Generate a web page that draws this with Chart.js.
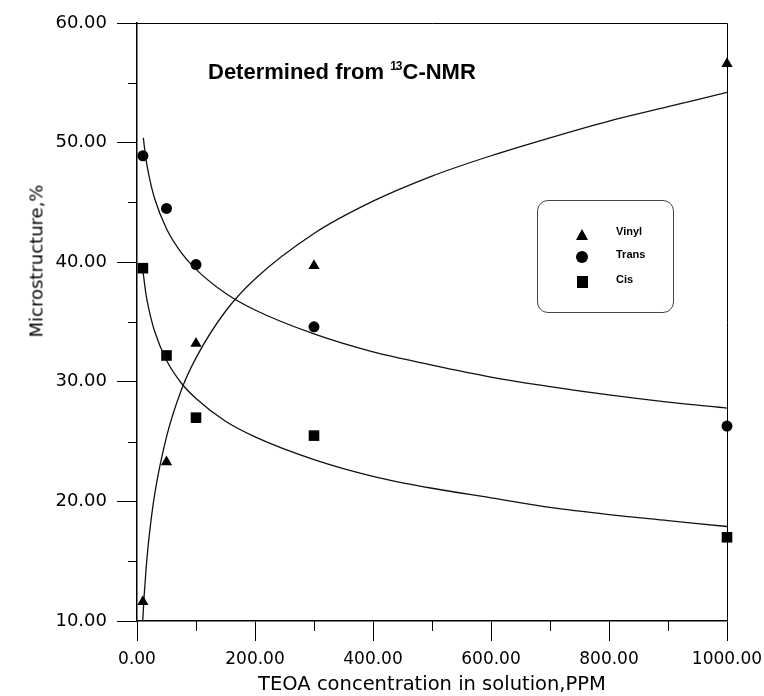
<!DOCTYPE html>
<html>
<head>
<meta charset="utf-8">
<script src="https://cdn.jsdelivr.net/npm/chart.js@4"></script>
<style>
  body { margin: 0; background: #fff; }
  #wrap { position: relative; width: 764px; height: 696px; }
  #chart { position: absolute; left: 0; top: 0; }
  .txt { position: absolute; color: #000; white-space: nowrap; font-family: "DejaVu Sans", sans-serif; }
  #note { left: 208px; top: 55px; font: bold 22px "Liberation Sans", Arial, sans-serif; line-height: 23px; }
  #note sup { font-size: 12px; vertical-align: 9px; letter-spacing: -1px; margin-right: 1px; }
  #ytitle { left: 36px; top: 261px; font-size: 18px; transform: translate(-50%, -50%) rotate(-90deg); }
  #xtitle { left: 432px; top: 683px; font-size: 19.5px; transform: translate(-50%, -50%); }
  #legend { position: absolute; left: 537px; top: 200px; width: 137px; height: 113px;
            border: 1px solid #444; border-radius: 11px; box-sizing: border-box; }
  .row { position: absolute; left: 0; height: 14px; }
  .row span { position: absolute; left: 78px; top: -2px; font: bold 11px "Liberation Sans", Arial, sans-serif; }
  .tri { position: absolute; left: 38px; top: 2px; width: 0; height: 0;
         border-left: 6px solid transparent; border-right: 6px solid transparent; border-bottom: 11px solid #000; }
  .dot { position: absolute; left: 38px; top: 1px; width: 12px; height: 12px; border-radius: 50%; background: #000; }
  .sq { position: absolute; left: 39px; top: 1px; width: 11px; height: 12px; background: #000; }
</style>
</head>
<body>
<div id="wrap">
  <canvas id="chart" width="764" height="696"></canvas>
  <div class="txt" id="note">Determined from <sup>13</sup>C-NMR</div>
  <div class="txt" id="ytitle">Microstructure,%</div>
  <div class="txt" id="xtitle">TEOA concentration in solution,PPM</div>
  <div id="legend">
    <div class="row" style="top:26px"><div class="tri"></div><span>Vinyl</span></div>
    <div class="row" style="top:49px"><div class="dot"></div><span>Trans</span></div>
    <div class="row" style="top:74px"><div class="sq"></div><span>Cis</span></div>
  </div>
</div>
<script>
// measured points
const concentration = [10, 50, 100, 300, 1000];
const vinyl = [11.6, 23.3, 33.2, 39.7, 56.6];
const trans = [48.9, 44.5, 39.8, 34.6, 26.3];
const cis = [39.5, 32.2, 27.0, 25.5, 17.0];

// fitted curves
const vinylFitX = [9.7, 12, 15, 20, 30, 50, 75, 100, 150, 200, 300, 400, 500, 600, 700, 800, 900, 1000];
const vinylFit = [10.0, 12.0, 14.1, 16.8, 20.6, 25.4, 29.3, 32.0, 35.9, 38.6, 42.4, 45.1, 47.2, 48.9, 50.4, 51.8, 53.0, 54.2];
const transFitX = [10.7, 15, 20, 30, 50, 75, 100, 150, 200, 300, 400, 500, 600, 700, 800, 900, 1000];
const transFit = [50.4, 48.7, 47.3, 45.3, 42.8, 40.8, 39.4, 37.4, 36.0, 34.0, 32.5, 31.4, 30.4, 29.6, 28.9, 28.3, 27.8];
const cisFitX = [10, 15, 20, 30, 50, 75, 100, 150, 200, 300, 400, 500, 600, 700, 800, 900, 1000];
const cisFit = [39.3, 37.4, 36.1, 34.2, 31.8, 29.9, 28.6, 26.7, 25.4, 23.5, 22.1, 21.1, 20.3, 19.5, 18.9, 18.4, 17.9];

// axis ticks
const xTicks = [0, 200, 400, 600, 800, 1000];
const xMinorTicks = [100, 300, 500, 700, 900];
const yTicks = [10, 20, 30, 40, 50, 60];
const yMinorTicks = [15, 25, 35, 45, 55];

const toPoints = (xs, ys) => xs.map((x, i) => ({ x: x, y: ys[i] }));

const fitLine = (xs, ys) => ({
    type: 'line',
    data: toPoints(xs, ys),
    borderColor: '#111',
    borderWidth: 1.3,
    pointRadius: 0,
    cubicInterpolationMode: 'monotone',
    fill: false
});

const markers = (ys, style, r) => ({
    type: 'scatter',
    data: toPoints(concentration, ys),
    pointStyle: style,
    pointRadius: r,
    backgroundColor: '#000',
    borderColor: '#000',
    borderWidth: 0,
    clip: false
});

// minor ticks and the closed frame
const framePlugin = {
    id: 'frame',
    afterDraw(chart) {
        const ctx = chart.ctx;
        const area = chart.chartArea;
        const xs = chart.scales.x;
        const ys = chart.scales.y;
        ctx.save();
        ctx.strokeStyle = '#000';
        ctx.lineWidth = 1;
        ctx.beginPath();
        ctx.moveTo(area.left, area.top + 0.5);
        ctx.lineTo(area.right + 0.5, area.top + 0.5);
        ctx.lineTo(area.right + 0.5, area.bottom);
        yMinorTicks.forEach(v => {
            const py = Math.round(ys.getPixelForValue(v)) + 0.5;
            ctx.moveTo(area.left - 9, py);
            ctx.lineTo(area.left, py);
        });
        xMinorTicks.forEach(v => {
            const px = Math.round(xs.getPixelForValue(v)) + 0.5;
            ctx.moveTo(px, area.bottom);
            ctx.lineTo(px, area.bottom + 10);
        });
        ctx.stroke();
        ctx.restore();
    }
};

new Chart(document.getElementById('chart'), {
    data: {
        datasets: [
            fitLine(vinylFitX, vinylFit),
            fitLine(transFitX, transFit),
            fitLine(cisFitX, cisFit),
            markers(vinyl, 'triangle', 6.5),
            markers(trans, 'circle', 5.5),
            markers(cis, 'rect', 7.5)
        ]
    },
    options: {
        responsive: false,
        devicePixelRatio: 1,
        animation: false,
        layout: { padding: { top: 23, right: 37, left: 0, bottom: 0 } },
        plugins: { legend: { display: false }, tooltip: { enabled: false } },
        scales: {
            x: {
                type: 'linear',
                min: 0,
                max: 1000,
                afterBuildTicks: scale => { scale.ticks = xTicks.map(v => ({ value: v })); },
                afterFit: scale => {
                    scale.height = 75;
                    scale.paddingLeft = 0;
                    scale.paddingRight = 0;
                },
                border: { color: '#000', width: 1.5 },
                grid: { drawOnChartArea: false, tickLength: 20, color: '#000', tickWidth: 1 },
                ticks: {
                    color: '#000',
                    padding: 8,
                    maxRotation: 0,
                    font: { family: 'DejaVu Sans', size: 17 },
                    callback: v => v.toFixed(2)
                }
            },
            y: {
                type: 'linear',
                min: 10,
                max: 60,
                afterBuildTicks: scale => { scale.ticks = yTicks.map(v => ({ value: v })); },
                afterFit: scale => {
                    scale.width = 137;
                    scale.paddingTop = 0;
                    scale.paddingBottom = 0;
                },
                border: { color: '#000', width: 1.5 },
                grid: { drawOnChartArea: false, tickLength: 20, color: '#000', tickWidth: 1 },
                ticks: {
                    color: '#000',
                    padding: 10,
                    font: { family: 'DejaVu Sans', size: 18 },
                    callback: v => v.toFixed(2)
                }
            }
        }
    },
    plugins: [framePlugin]
});
</script>
</body>
</html>
